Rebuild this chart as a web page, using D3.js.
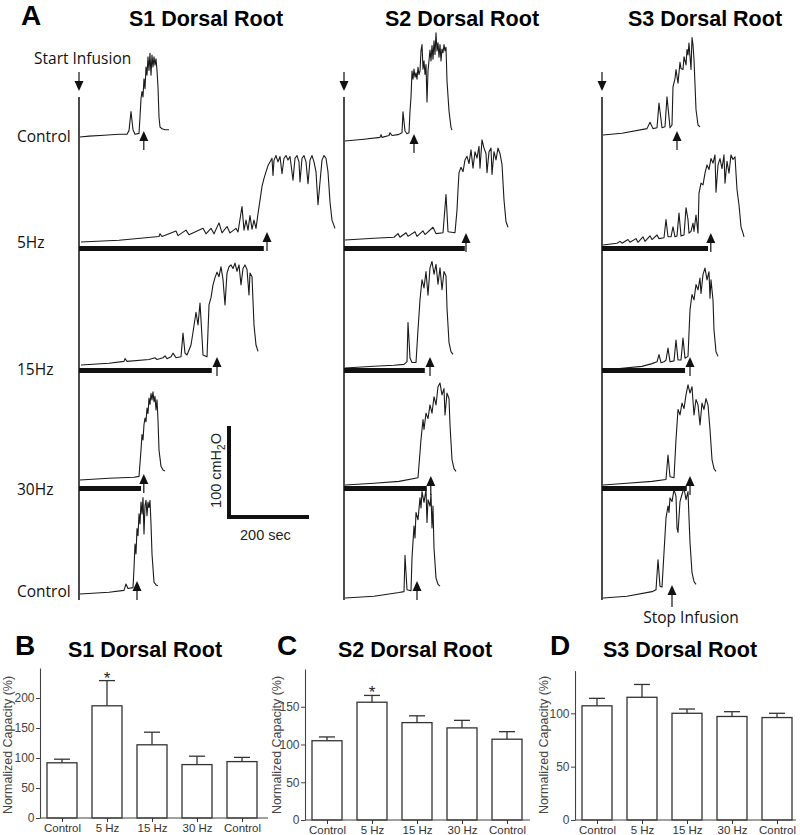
<!DOCTYPE html>
<html><head><meta charset="utf-8">
<script src="https://cdn.jsdelivr.net/npm/d3@7"></script>
<style>body{margin:0;background:#fff}svg{display:block}</style>
</head><body>
<svg id="fig" width="800" height="835"></svg>
<script>
// ---------------- DATA ----------------
const rootNames = ["S1 Dorsal Root", "S2 Dorsal Root", "S3 Dorsal Root"];
const rowLabels = ["Control", "5Hz", "15Hz", "30Hz", "Control"];

// cystometry traces: [time (s), pressure above start (cmH2O)]
const s1Control = [[2.5,0],[25,1],[62.5,2],[100,3],[120,3],[125,7],[130,28],[135,8],[140,3],[150,4],[152.5,22],[155,42],[157.5,50],[160,44],[162.5,64],[165,53],[167.5,77],[170,68],[172.5,88],[175,73],[177.5,92],[180,68],[182.5,90],[185,77],[187.5,88],[190,79],[192.5,86],[195,73],[197.5,55],[200,22],[202.5,11],[207.5,9],[215,8],[225,8]];
const s1Hz5 = [[5,0],[100,2],[200,6],[202.5,9],[207.5,6],[242.5,12],[247.5,7],[267.5,13],[275,8],[310,15],[317.5,9],[330,15],[337.5,9],[350,21],[357.5,10],[370,17],[377.5,10],[392.5,15],[397.5,11],[407.5,39],[412.5,13],[417.5,24],[422.5,13],[427.5,29],[432.5,14],[437.5,24],[442.5,15],[447.5,31],[452.5,46],[457.5,61],[462.5,70],[467.5,77],[472.5,84],[477.5,88],[482.5,92],[485,73],[487.5,90],[492.5,95],[497.5,88],[502.5,94],[507.5,75],[512.5,92],[517.5,95],[522.5,90],[527.5,94],[535,68],[540,92],[545,95],[550,88],[552.5,66],[557.5,92],[562.5,95],[567.5,88],[572.5,64],[577.5,90],[582.5,95],[587.5,88],[592.5,77],[597.5,41],[602.5,66],[607.5,90],[612.5,95],[617.5,92],[622.5,77],[627.5,44],[632.5,24],[640,15]];
const s1Hz15 = [[5,0],[75,2],[112.5,4],[115,7],[120,4],[175,6],[190,8],[195,6],[210,8],[215,10],[220,7],[230,9],[235,13],[242.5,8],[255,9],[260,35],[265,13],[270,11],[280,22],[285,36],[292.5,58],[297.5,44],[302.5,68],[305,50],[310,11],[320,9],[325,66],[330,74],[335,88],[340,96],[345,102],[350,97],[355,108],[360,94],[365,66],[370,101],[375,108],[380,110],[385,106],[390,112],[395,103],[400,110],[405,88],[410,106],[415,110],[420,105],[425,77],[427.5,101],[432.5,97],[437.5,44],[442.5,22],[447.5,15]];
const s1Hz30 = [[2.5,0],[75,2],[137.5,3],[150,4],[155,33],[157.5,50],[160,44],[162.5,61],[165,68],[167.5,64],[170,79],[172.5,73],[175,90],[177.5,83],[180,95],[182.5,88],[185,97],[187.5,86],[190,92],[192.5,77],[195,88],[197.5,66],[200,33],[205,15],[210,11],[215,10]];
const s1Recovery = [[2.5,0],[75,2],[112.5,4],[117.5,11],[122.5,6],[135,7],[137.5,28],[140,55],[142.5,44],[145,72],[147.5,64],[150,88],[152.5,77],[155,101],[157.5,88],[160,106],[162.5,66],[165,97],[167.5,103],[170,86],[172.5,101],[175,95],[177.5,103],[180,77],[182.5,44],[187.5,13],[192.5,10],[197.5,9]];

const s2Control = [[2.5,0],[50,2],[90,4],[92.5,7],[95,4],[112.5,6],[115,9],[120,6],[135,7],[145,9],[147.5,32],[152.5,11],[157.5,8],[162.5,9],[165,33],[167.5,48],[170,77],[172.5,68],[175,79],[177.5,70],[180,75],[182.5,68],[185,81],[187.5,73],[190,77],[192.5,99],[195,106],[197.5,79],[200,88],[202.5,73],[205,84],[207.5,43],[210,77],[215,100],[217.5,88],[220,105],[222.5,90],[225,110],[227.5,95],[230,119],[232.5,99],[235,108],[237.5,92],[240,106],[242.5,88],[245,101],[247.5,97],[250,106],[252.5,99],[255,103],[257.5,66],[262.5,33],[267.5,15],[270,12]];
const s2Hz5 = [[2.5,0],[75,2],[125,3],[135,7],[140,3],[155,8],[160,4],[177.5,9],[182.5,4],[197.5,10],[202.5,6],[222.5,14],[230,7],[247.5,8],[255,50],[260,9],[277.5,8],[282.5,33],[285,55],[287.5,74],[292.5,80],[297.5,75],[302.5,88],[307.5,92],[312.5,84],[317.5,99],[322.5,79],[327.5,97],[332.5,90],[337.5,103],[340,79],[345,110],[350,101],[355,95],[357.5,74],[362.5,97],[367.5,101],[370,72],[375,97],[380,88],[385,101],[390,95],[395,83],[400,44],[405,20],[410,14]];
const s2Hz15 = [[2.5,0],[75,2],[125,3],[150,4],[157.5,7],[160,50],[165,11],[170,6],[180,6],[185,42],[190,75],[195,97],[200,88],[205,106],[210,80],[215,110],[220,117],[225,103],[230,114],[235,92],[240,110],[245,86],[250,106],[255,101],[257.5,66],[262.5,28],[267.5,18],[272.5,15]];
const s2Hz30 = [[2.5,0],[75,2],[137.5,4],[185,8],[192.5,50],[197.5,72],[200,61],[205,79],[210,73],[215,88],[220,79],[225,97],[230,88],[235,108],[240,112],[245,99],[250,106],[252.5,77],[257.5,101],[262.5,95],[265,66],[270,28],[275,18],[280,15]];
const s2Recovery = [[2.5,0],[75,2],[137.5,6],[150,7],[152.5,47],[157.5,9],[167.5,8],[170,44],[175,79],[177.5,66],[180,94],[185,86],[190,110],[192.5,99],[195,117],[200,105],[205,119],[207.5,83],[210,108],[215,101],[217.5,114],[220,77],[222.5,101],[225,55],[230,22],[235,15],[240,13]];

const s3Control = [[2.5,0],[50,2],[112.5,7],[120,14],[127.5,7],[137.5,8],[142.5,35],[150,8],[157.5,9],[162.5,42],[170,8],[175,11],[177.5,53],[182.5,62],[185,72],[190,57],[195,80],[197.5,73],[202.5,72],[205,86],[210,77],[212.5,94],[215,88],[217.5,101],[220,86],[222.5,72],[225,107],[227.5,99],[230,83],[235,28],[240,11],[245,9]];
const s3Hz5 = [[2.5,0],[37.5,2],[45,4],[50,2],[65,6],[70,3],[85,7],[90,3],[102.5,9],[107.5,4],[120,10],[125,6],[137.5,11],[142.5,7],[155,8],[160,28],[165,9],[172.5,9],[177.5,20],[182.5,9],[187.5,10],[192.5,35],[197.5,10],[205,11],[210,41],[215,28],[217.5,13],[222.5,15],[227.5,24],[230,15],[235,33],[240,13],[242.5,57],[247.5,68],[252.5,66],[257.5,79],[262.5,88],[267.5,83],[272.5,95],[277.5,90],[282.5,99],[285,58],[290,88],[295,95],[300,84],[305,99],[307.5,68],[312.5,92],[317.5,79],[322.5,99],[327.5,94],[332.5,97],[337.5,61],[342.5,44],[347.5,20],[352.5,13],[355,9]];
const s3Hz15 = [[2.5,0],[50,2],[100,4],[125,7],[137.5,9],[142.5,17],[147.5,8],[155,9],[160,11],[165,24],[170,9],[180,10],[185,33],[190,11],[197.5,11],[202.5,35],[207.5,13],[215,15],[220,66],[225,83],[230,77],[235,94],[240,88],[245,101],[247.5,84],[252.5,105],[257.5,112],[262.5,99],[267.5,108],[270,79],[272.5,99],[277.5,77],[280,44],[285,20],[290,15]];
const s3Hz30 = [[2.5,0],[62.5,2],[125,4],[160,6],[165,33],[170,9],[180,8],[185,50],[190,83],[195,77],[200,90],[205,84],[210,99],[215,110],[220,101],[225,108],[230,77],[235,94],[240,88],[245,66],[250,90],[255,83],[260,95],[265,88],[270,61],[275,28],[280,18],[285,15]];
const s3Recovery = [[2.5,0],[62.5,2],[125,7],[135,9],[140,42],[145,13],[150,12],[155,50],[160,88],[165,101],[167.5,94],[170,110],[175,106],[180,119],[185,112],[187.5,77],[190,72],[195,106],[200,114],[205,121],[210,108],[215,117],[217.5,88],[220,61],[225,28],[230,18],[235,15]];

// stimulation end (s) and stop-infusion times (s) per row
const s1StimEnd = [null, 462, 332, 155, null];
const s2StimEnd = [null, 302, 202, 207, null];
const s3StimEnd = [null, 265, 207.5, 212, null];
const s1Stop = [162, 470, 345, 162, 145];
const s2Stop = [175, 305, 215, 217, 182.5];
const s3Stop = [187.5, 272, 220, 220, 175];

// bar charts: normalized capacity (%)
const barCats = ["Control", "5 Hz", "15 Hz", "30 Hz", "Control"];
const s1Mean = [92, 187, 122, 89, 94];
const s1Sem = [6, 42, 21, 14, 7];
const s2Mean = [105, 156, 129, 122, 107];
const s2Sem = [5, 9, 9, 10, 10];
const s3Mean = [107, 115, 100, 97, 96];
const s3Sem = [7, 12, 4, 4.5, 4];
const s1Sig = [false, true, false, false, false];
const s2Sig = [false, true, false, false, false];
const s3Sig = [false, false, false, false, false];
const s1Ticks = [0, 50, 100, 150, 200];
const s2Ticks = [0, 50, 100, 150];
const s3Ticks = [0, 50, 100];

// ---------------- DRAW ----------------
const svg = d3.select("#fig");
const ARIAL = "'Liberation Sans', Arial, sans-serif";
const OPEN = "'Open Sans', 'Noto Sans', sans-serif";

const timeScale = d3.scaleLinear().domain([0, 200]).range([0, 80]);
const pressScale = d3.scaleLinear().domain([0, 100]).range([0, 91]);

const traces = [
  [s1Control, s1Hz5, s1Hz15, s1Hz30, s1Recovery],
  [s2Control, s2Hz5, s2Hz15, s2Hz30, s2Recovery],
  [s3Control, s3Hz5, s3Hz15, s3Hz30, s3Recovery]
];
const stimEnds = [s1StimEnd, s2StimEnd, s3StimEnd];
const stops = [s1Stop, s2Stop, s3Stop];

const colX = [79, 344, 602];
const baseY = [[137, 242, 365, 480, 594], [141, 240, 368, 485, 598], [135, 245, 370, 485, 598]];
const barTop = [null, 246, 368, 486, null];
const arrowTip = [[131, 232, 357, 474, 581], [134, 233, 357, 476, 581], [131, 233, 357, 476, 585]];

// panel A headings
svg.append("text").attr("x", 21).attr("y", 25).text("A")
  .style("font-family", ARIAL).style("font-weight", "bold").style("font-size", "28px");
const titleX = [206, 462, 705];
rootNames.forEach((n, i) => {
  svg.append("text").attr("x", titleX[i]).attr("y", 26).attr("text-anchor", "middle").text(n)
    .style("font-family", ARIAL).style("font-weight", "bold").style("font-size", "21.5px");
});

svg.append("text").attr("x", 34).attr("y", 64).text("Start Infusion")
  .style("font-family", OPEN).style("font-size", "15.5px").attr("fill", "#111");

const labelY = [142, 248, 375, 495, 597];
rowLabels.forEach((l, i) => {
  svg.append("text").attr("x", 17).attr("y", labelY[i]).text(l)
    .style("font-family", OPEN).style("font-size", "15.5px").attr("fill", "#111");
});

function upArrow(x, tip, len) {
  svg.append("line").attr("x1", x).attr("x2", x).attr("y1", tip + 7).attr("y2", tip + len)
    .attr("stroke", "#111").attr("stroke-width", 1.2);
  svg.append("path").attr("d", `M${x},${tip} L${x - 4.5},${tip + 10} L${x + 4.5},${tip + 10} Z`).attr("fill", "#111");
}
function downArrow(x, tip, len) {
  svg.append("line").attr("x1", x).attr("x2", x).attr("y1", tip - len).attr("y2", tip - 7)
    .attr("stroke", "#111").attr("stroke-width", 1.2);
  svg.append("path").attr("d", `M${x},${tip} L${x - 4.5},${tip - 10} L${x + 4.5},${tip - 10} Z`).attr("fill", "#111");
}

const line = d3.line().x(d => timeScale(d[0])).y(d => -pressScale(d[1]));

colX.forEach((cx, c) => {
  // vertical time-origin line
  svg.append("line").attr("x1", cx).attr("x2", cx).attr("y1", 97).attr("y2", 600)
    .attr("stroke", "#111").attr("stroke-width", 1.5);
  downArrow(cx, 91, 19);
  traces[c].forEach((tr, r) => {
    const g = svg.append("g").attr("transform", `translate(${cx},${baseY[c][r]})`);
    g.append("path").attr("d", line(tr)).attr("fill", "none")
      .attr("stroke", "#1a1a1a").attr("stroke-width", 1.1).attr("stroke-linejoin", "round");
    const se = stimEnds[c][r];
    if (se != null) {
      svg.append("rect").attr("x", cx).attr("y", barTop[r])
        .attr("width", timeScale(se)).attr("height", 5).attr("fill", "#111");
    }
    upArrow(cx + timeScale(stops[c][r]), arrowTip[c][r], r === 4 && c === 2 ? 22 : 19);
  });
});

svg.append("text").attr("x", 691).attr("y", 623).attr("text-anchor", "middle").text("Stop Infusion")
  .style("font-family", OPEN).style("font-size", "15.5px").attr("fill", "#111");

// scale bar
const sbX = 229, sbY = 517;
svg.append("line").attr("x1", sbX).attr("x2", sbX).attr("y1", sbY - pressScale(100)).attr("y2", sbY + 2)
  .attr("stroke", "#111").attr("stroke-width", 4);
svg.append("line").attr("x1", sbX - 2).attr("x2", sbX + timeScale(200)).attr("y1", sbY).attr("y2", sbY)
  .attr("stroke", "#111").attr("stroke-width", 4);
const sbt = svg.append("text").attr("transform", `translate(221,${sbY - pressScale(100) / 2 - 1}) rotate(-90)`)
  .attr("text-anchor", "middle").style("font-family", ARIAL).style("font-size", "14.5px").attr("fill", "#222");
sbt.append("tspan").text("100 cmH");
sbt.append("tspan").text("2").attr("dy", 4).style("font-size", "10px");
sbt.append("tspan").text("O").attr("dy", -4);
svg.append("text").attr("x", 240).attr("y", 540).text("200 sec")
  .style("font-family", ARIAL).style("font-size", "14.5px").attr("fill", "#222");

// ---------------- BAR CHARTS ----------------
function barChart(o) {
  const y = d3.scaleLinear().domain([0, o.max]).range([o.y0, o.yTop]);
  const x = d3.scalePoint().domain(d3.range(barCats.length)).range([o.ax + 22, o.ax + 202]);
  const g = svg.append("g");
  svg.append("text").attr("x", o.letterX).attr("y", 655).text(o.letter)
    .style("font-family", ARIAL).style("font-weight", "bold").style("font-size", "28px");
  svg.append("text").attr("x", o.titleX).attr("y", 657).attr("text-anchor", "middle").text(o.title)
    .style("font-family", ARIAL).style("font-weight", "bold").style("font-size", "21.5px");
  o.mean.forEach((m, i) => {
    const cx = x(i);
    g.append("line").attr("x1", cx).attr("x2", cx).attr("y1", y(m)).attr("y2", y(m + o.sem[i]))
      .attr("stroke", "#333").attr("stroke-width", 1.3);
    g.append("line").attr("x1", cx - 8).attr("x2", cx + 8).attr("y1", y(m + o.sem[i])).attr("y2", y(m + o.sem[i]))
      .attr("stroke", "#333").attr("stroke-width", 1.3);
    g.append("rect").attr("x", cx - 15).attr("y", y(m)).attr("width", 30).attr("height", y(0) - y(m))
      .attr("fill", "#fff").attr("stroke", "#333").attr("stroke-width", 1.3);
    if (o.sig[i]) {
      g.append("text").attr("x", cx).attr("y", y(m + o.sem[i]) + 3).attr("text-anchor", "middle").text("*")
        .style("font-family", ARIAL).style("font-size", "17px").attr("fill", "#222");
    }
  });
  const ya = svg.append("g").attr("transform", `translate(${o.ax},0)`).style("color", "#444")
    .call(d3.axisLeft(y).tickValues(o.ticks).tickSize(4).tickSizeOuter(0).tickPadding(1.5));
  ya.select(".domain").attr("stroke-width", 1.1);
  ya.selectAll(".tick text").style("font-family", ARIAL).style("font-size", "12px");
  svg.append("line").attr("x1", o.ax).attr("x2", o.xEnd).attr("y1", o.y0).attr("y2", o.y0)
    .attr("stroke", "#444").attr("stroke-width", 1.1);
  const xa = svg.append("g").attr("transform", `translate(0,${o.y0})`).style("color", "#333")
    .call(d3.axisBottom(x).tickSize(4).tickPadding(2).tickFormat(i => barCats[i]));
  xa.select(".domain").remove();
  xa.selectAll(".tick text").style("font-family", ARIAL).style("font-size", "11.5px");
  svg.append("text").attr("transform", `translate(${o.labX},745) rotate(-90)`).attr("text-anchor", "middle")
    .text("Normalized Capacity (%)").style("font-family", ARIAL).style("font-size", "12.5px").attr("fill", "#444");
}

barChart({ax: 40, y0: 818, yTop: 668, max: 250, ticks: s1Ticks, mean: s1Mean, sem: s1Sem, sig: s1Sig,
  xEnd: 268, letter: "B", letterX: 15, title: "S1 Dorsal Root", titleX: 145, labX: 12});
barChart({ax: 305, y0: 820, yTop: 669, max: 200, ticks: s2Ticks, mean: s2Mean, sem: s2Sem, sig: s2Sig,
  xEnd: 530, letter: "C", letterX: 277, title: "S2 Dorsal Root", titleX: 415, labX: 281});
barChart({ax: 575, y0: 820, yTop: 670.6, max: 140, ticks: s3Ticks, mean: s3Mean, sem: s3Sem, sig: s3Sig,
  xEnd: 796, letter: "D", letterX: 550, title: "S3 Dorsal Root", titleX: 680, labX: 548});
</script>
</body></html>
